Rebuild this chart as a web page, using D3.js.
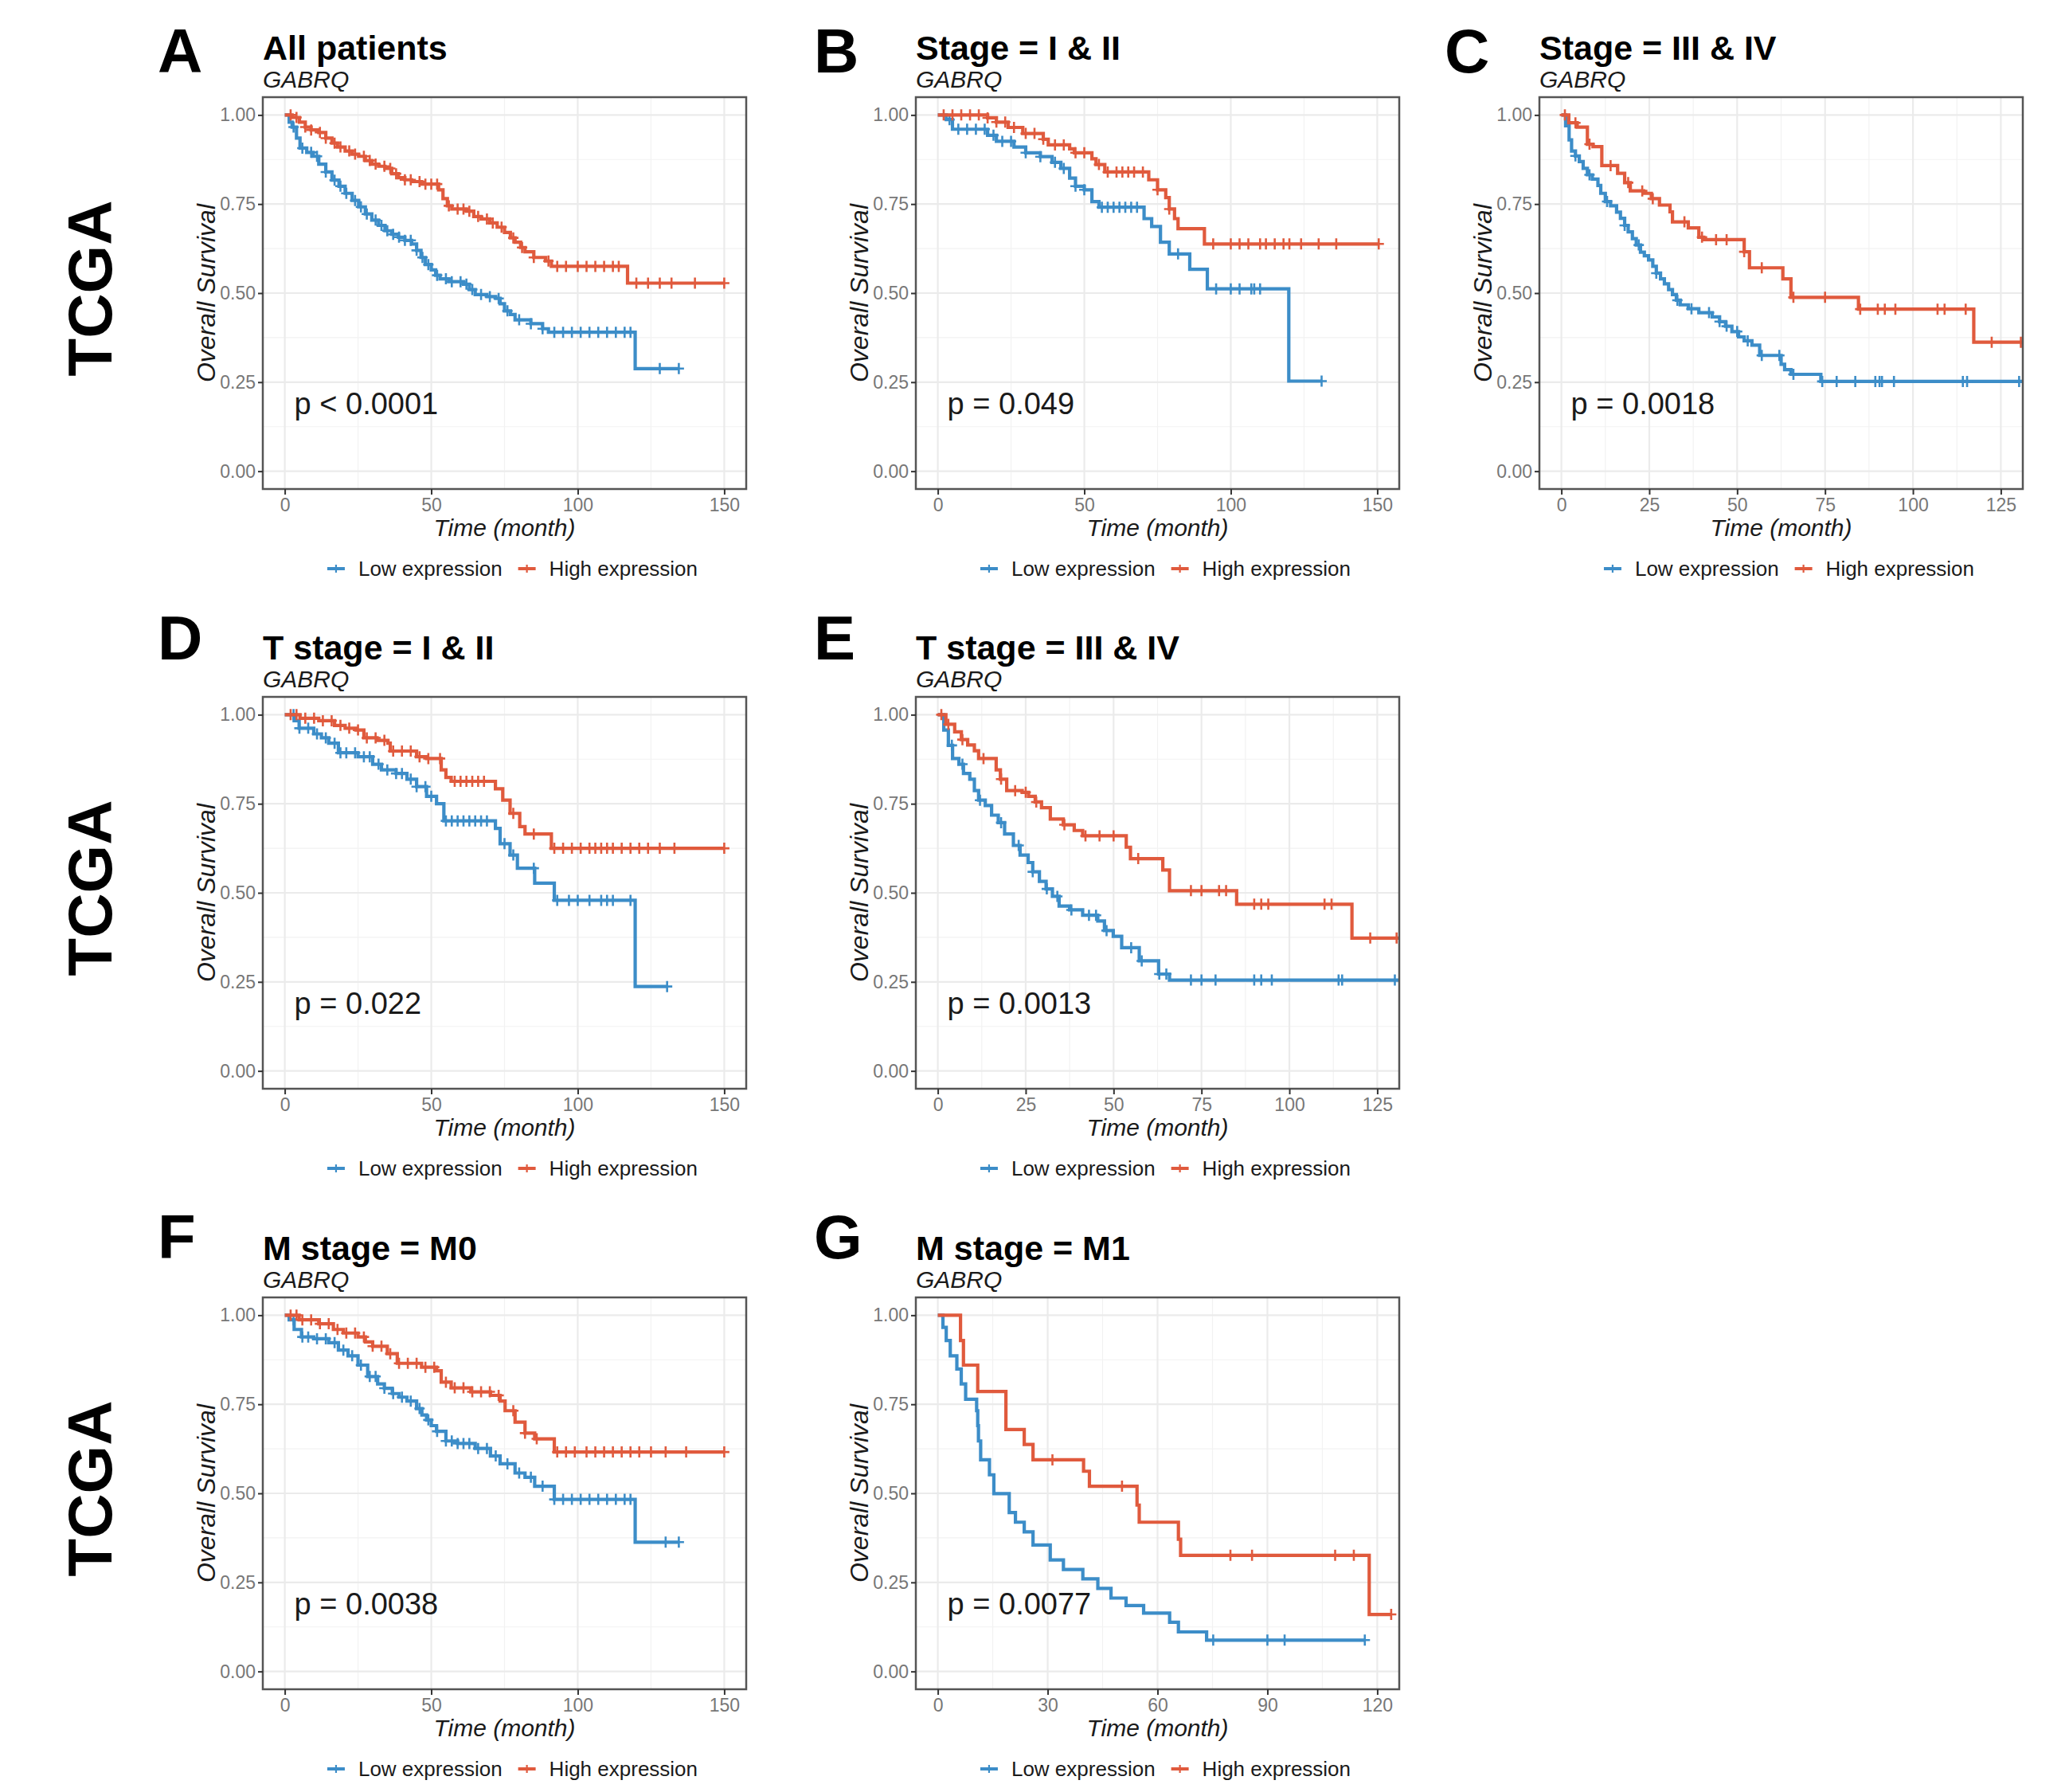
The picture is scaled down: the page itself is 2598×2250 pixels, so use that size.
<!DOCTYPE html>
<html>
<head>
<meta charset="utf-8">
<title>GABRQ overall survival, TCGA</title>
<script src="https://cdnjs.cloudflare.com/ajax/libs/d3/7.8.5/d3.min.js"></script>
<style>
  body { margin: 0; background: #fff; }
  text { font-family: "Liberation Sans", Arial, sans-serif; }
</style>
</head>
<body>
<div id="container"></div>
<script>
// ---- values ----
var panelIds = ["A", "B", "C", "D", "E", "F", "G"];
var titles = ["All patients", "Stage = I & II", "Stage = III & IV", "T stage = I & II",
              "T stage = III & IV", "M stage = M0", "M stage = M1"];
var pvalues = ["p < 0.0001", "p = 0.049", "p = 0.0018", "p = 0.022", "p = 0.0013", "p = 0.0038", "p = 0.0077"];
var gene = "GABRQ";
var groups = ["Low expression", "High expression"];
var yTicks = [0, 0.25, 0.5, 0.75, 1];
var ticks150 = [0, 50, 100, 150];
var ticks125 = [0, 25, 50, 75, 100, 125];
var ticks120 = [0, 30, 60, 90, 120];
var xMax = [150, 150, 125, 150, 125, 150, 120];

// step curves: [time at which survival drops, survival after the drop]
var A_low = [[1.5,0.98],[2.5,0.966],[4,0.935],[5.2,0.907],[7.5,0.895],[9.7,0.884],[11.6,0.862],[14,0.84],[16.1,0.817],[18.5,0.8],[20.6,0.78],[23,0.76],[25.2,0.742],[27.5,0.722],[29.7,0.705],[32,0.69],[34.2,0.675],[36.5,0.665],[38.8,0.657],[41,0.648],[43.3,0.638],[45,0.62],[46.5,0.6],[48,0.58],[50,0.565],[51.5,0.55],[53,0.54],[56,0.532],[61,0.525],[63,0.51],[65,0.496],[69,0.49],[72,0.485],[73.5,0.47],[75,0.45],[77,0.44],[78.6,0.425],[84,0.414],[88,0.4],[90,0.39],[119.6,0.288]];
var A_high = [[2.5,0.993],[5,0.98],[7,0.966],[9,0.958],[11.6,0.951],[14,0.935],[16.1,0.921],[18,0.91],[20.6,0.899],[23,0.89],[25.2,0.884],[27.5,0.872],[29.7,0.862],[32,0.856],[34.2,0.85],[36.5,0.835],[38.8,0.824],[41,0.818],[43.3,0.813],[46.7,0.806],[52.5,0.79],[54,0.765],[55.5,0.745],[57,0.736],[62,0.73],[64.5,0.715],[67,0.708],[70,0.697],[72.5,0.685],[75,0.67],[77,0.655],[78.6,0.643],[80.5,0.628],[82,0.616],[85,0.6],[89,0.59],[91,0.575],[117,0.528]];
var B_low = [[2.9,0.987],[5,0.96],[17,0.943],[20,0.926],[26,0.91],[30,0.894],[35,0.883],[39,0.867],[42,0.85],[45,0.823],[47,0.8],[50,0.79],[52.6,0.757],[55,0.741],[70.4,0.709],[73,0.687],[76,0.643],[79,0.61],[86,0.567],[92,0.512],[119.8,0.253]];
var B_high = [[17,0.992],[20,0.98],[24,0.965],[29,0.948],[36,0.932],[37.7,0.916],[45,0.905],[46.6,0.894],[52.6,0.877],[54,0.861],[57,0.84],[72,0.818],[75,0.79],[77.8,0.768],[79,0.736],[80.8,0.709],[82,0.681],[91,0.638]];
var C_low = [[1.2,0.97],[2.2,0.93],[2.9,0.899],[4,0.885],[5.1,0.869],[6.2,0.85],[7.4,0.832],[8.8,0.82],[10.4,0.802],[11.2,0.78],[12.5,0.757],[14,0.745],[15.7,0.727],[16.8,0.71],[18,0.69],[19,0.672],[20.2,0.653],[21.3,0.635],[22.5,0.615],[23.6,0.605],[24.8,0.593],[26,0.575],[27,0.556],[28.2,0.54],[29.3,0.526],[30.5,0.51],[31.6,0.496],[32.7,0.48],[33.8,0.467],[36.1,0.456],[39.1,0.445],[42.9,0.433],[45,0.42],[46.7,0.407],[48.5,0.392],[50.4,0.377],[52,0.366],[54.2,0.354],[56.4,0.325],[62.5,0.3],[63.5,0.285],[65.3,0.272],[73.8,0.252]];
var C_high = [[2.1,0.978],[4.5,0.966],[7.4,0.918],[9,0.911],[11.5,0.858],[16,0.836],[18,0.81],[19.6,0.787],[23.4,0.78],[25.6,0.765],[27.9,0.747],[30.9,0.728],[31.6,0.7],[36.1,0.683],[39.1,0.657],[40.5,0.65],[52,0.616],[53.5,0.571],[63,0.54],[65.3,0.488],[84.5,0.455],[117.3,0.362]];
var D_low = [[3.2,0.983],[4.9,0.962],[9.9,0.946],[12.5,0.935],[15,0.92],[18.3,0.893],[25,0.882],[30,0.861],[33,0.845],[38,0.835],[41.7,0.819],[45,0.798],[48.4,0.771],[51.8,0.75],[54.3,0.702],[71.9,0.681],[73.5,0.638],[76.9,0.606],[79.4,0.569],[85.3,0.527],[92,0.479],[119.6,0.237]];
var D_high = [[5.2,0.99],[11.6,0.983],[17,0.97],[20.6,0.962],[24.3,0.957],[27,0.935],[31.5,0.928],[35.2,0.92],[36,0.898],[45,0.882],[48.4,0.877],[53.4,0.845],[55,0.824],[56.8,0.813],[71.9,0.792],[74.4,0.76],[76.9,0.723],[80.2,0.686],[82,0.665],[91,0.625]];
var E_low = [[1.7,0.957],[3,0.914],[4.2,0.877],[6,0.861],[7.3,0.835],[9.1,0.819],[10.4,0.787],[11.6,0.76],[13.5,0.745],[15.3,0.718],[17.2,0.697],[19,0.665],[21.5,0.633],[23.4,0.606],[25.7,0.585],[27,0.559],[28.9,0.532],[30.8,0.511],[32.6,0.49],[34.5,0.463],[37.5,0.452],[41.2,0.437],[45.5,0.421],[47.4,0.394],[49.9,0.378],[52.3,0.346],[57.3,0.309],[62.8,0.272],[65.9,0.255]];
var E_high = [[2.3,0.973],[4.8,0.952],[6.7,0.93],[8.5,0.915],[10.4,0.899],[11.6,0.877],[16.6,0.845],[17.8,0.819],[19.6,0.787],[24,0.782],[25.8,0.771],[27.7,0.755],[29.5,0.739],[32,0.707],[35.7,0.691],[38.8,0.675],[41.2,0.66],[53.6,0.628],[54.8,0.596],[64,0.564],[65.9,0.506],[85,0.468],[117.8,0.373]];
var F_low = [[1.5,0.987],[3.2,0.96],[5.7,0.939],[9.9,0.934],[15,0.923],[18.3,0.902],[21.6,0.886],[25,0.86],[28.3,0.828],[31.7,0.807],[34,0.795],[36.7,0.78],[39,0.77],[41.7,0.759],[45,0.738],[46.8,0.72],[48.4,0.706],[50,0.69],[51.8,0.674],[55,0.647],[59,0.64],[65,0.626],[70.2,0.605],[73.5,0.583],[78.6,0.557],[82,0.545],[85.3,0.52],[92,0.483],[119.6,0.363]];
var F_high = [[4.9,0.987],[11.6,0.976],[16.6,0.96],[20,0.95],[25,0.939],[27.5,0.925],[30,0.913],[35,0.892],[38.4,0.865],[46.7,0.854],[51.8,0.844],[53.4,0.812],[56.8,0.796],[63.5,0.785],[70.2,0.775],[73.5,0.759],[75.2,0.732],[78.6,0.7],[82,0.669],[85.3,0.653],[92,0.616]];
var G_low = [[1.4,0.966],[2.3,0.929],[3.4,0.886],[5.2,0.849],[6.4,0.807],[7.6,0.764],[10.6,0.732],[10.9,0.69],[11.1,0.647],[11.7,0.594],[14.1,0.552],[15.3,0.499],[19.5,0.446],[21.2,0.419],[23.6,0.392],[26,0.355],[30.7,0.313],[34.3,0.286],[39.6,0.26],[43.7,0.233],[47.3,0.206],[51.4,0.185],[56.2,0.164],[63.3,0.138],[65.7,0.111],[73.4,0.088]];
var G_high = [[6.2,0.929],[7,0.86],[10.9,0.786],[18.6,0.679],[23.6,0.637],[26,0.594],[39.8,0.562],[41.4,0.52],[54.4,0.467],[55,0.419],[65.7,0.371],[66.3,0.326],[117.8,0.16]];

// last follow-up time of each curve (low, high), per panel
var lowEnd  = [134.5, 131, 135, 130.5, 135, 134.5, 116.6];
var highEnd = [150, 150.5, 135, 150, 135, 150, 123.8];

// censored times (+ marks)
var A_lowCens = [3,6,9,11,14,17,19,21,24,26,28,31,33,35,37,39,41,43,45,47,49,52,55,57,60,62,64,67,70,73,76,80,84,88,92,95,98,101,104,107,110,113,116,118,128,134.5];
var A_highCens = [2,4,7,9,12,14,17,19,22,24,27,29,31,34,36,38,41,43,46,48,50,52,56,59,61,63,66,69,71,74,78,81,85,90,93,96,100,103,106,109,112,114,120,124,128,132,140,150];
var B_lowCens = [4,7,10,13,16,19,22,25,30,35,40,43,47,50,56,58,60,62,64,66,68,82,95,100,103,107,108,110,131];
var B_highCens = [2,5,8,11,14,17,20,23,26,30,33,36,40,43,47,50,55,58,61,63,65,67,70,75,79,94,100,103,106,110,112,115,118,120,124,130,136,150.5];
var C_lowCens = [4,8,13,18,22,27,33,37,42,45,47,50,53,57,62,66,74.2,78.3,83.6,89.3,90.5,91.2,94.6,114.2,115.4,130.2];
var C_highCens = [1,4,8,14,19,23,26,35,40,44,47,52,57,66,75,85,90,92,95,107,109,115,122.4,130.7];
var D_lowCens = [3,5,8,11,14,17,19,21,24,27,29,32,35,38,40,43,45,48,50,55,57,59,61,63,65,67,69,75,78,85,93,97,100,104,108,110,112,118,130.5];
var D_highCens = [2,4,7,10,13,16,19,22,25,28,31,34,37,40,43,46,49,53,58,60,62,64,66,68,78,85,92,95,98,101,104,106,108,110,112,115,118,121,124,128,133,150];
var E_lowCens = [4,7,12,18,23,27,31,34,38,43,45,48,55,58,63,65,72,75,79,90,92,95,114,115,130];
var E_highCens = [1,3,7,13,18,22,25,28,36,42,46,50,57,72,75,80,82,90,92,94,110,112,123,130.5];
var F_lowCens = [3,6,8,11,14,17,20,23,26,29,31,34,37,40,43,46,49,52,55,57,59,61,63,66,69,72,76,80,84,88,92,95,98,101,104,107,110,113,116,118,130,134.5];
var F_highCens = [2,4,6,9,12,15,18,21,24,27,30,33,36,39,42,45,48,51,55,58,61,64,67,70,73,78,82,86,93,96,99,103,106,109,112,115,118,121,125,130,137,150];
var G_lowCens = [75.2, 90, 94.7, 116.6];
var G_highCens = [31.3, 50.3, 79.9, 85.8, 108.5, 113.6, 123.8];

// ---- layout ----
var W = 2598, H = 2250;
var colLeft = [330, 1150, 1933];
var rowTop = [122, 875, 1629];
var pw = 607, ph = 492;
var letterX = [198, 1022, 1814];
var letterBase = [91, 828, 1580];
var lowColor = "#3C8DC8", highColor = "#E05A3D";

var panels = [
  {row: 0, col: 0, xTicks: ticks150, low: A_low, high: A_high, lowCens: A_lowCens, highCens: A_highCens},
  {row: 0, col: 1, xTicks: ticks150, low: B_low, high: B_high, lowCens: B_lowCens, highCens: B_highCens},
  {row: 0, col: 2, xTicks: ticks125, low: C_low, high: C_high, lowCens: C_lowCens, highCens: C_highCens},
  {row: 1, col: 0, xTicks: ticks150, low: D_low, high: D_high, lowCens: D_lowCens, highCens: D_highCens},
  {row: 1, col: 1, xTicks: ticks125, low: E_low, high: E_high, lowCens: E_lowCens, highCens: E_highCens},
  {row: 2, col: 0, xTicks: ticks150, low: F_low, high: F_high, lowCens: F_lowCens, highCens: F_highCens},
  {row: 2, col: 1, xTicks: ticks120, low: G_low, high: G_high, lowCens: G_lowCens, highCens: G_highCens}
];
panels.forEach(function(p, i) {
  p.id = panelIds[i]; p.title = titles[i]; p.pval = pvalues[i];
  p.xMax = xMax[i]; p.lowEnd = lowEnd[i]; p.highEnd = highEnd[i];
});

var svg = d3.select("#container").append("svg")
    .attr("width", W)
    .attr("height", H);

svg.append("rect").attr("width", W).attr("height", H).attr("fill", "#fff");

// survival value at time t for a step list
function survAt(steps, t) {
  var s = 1;
  steps.forEach(function(d) { if (d[0] <= t) s = d[1]; });
  return s;
}

function midpoints(arr) {
  return d3.pairs(arr).map(function(d) { return (d[0] + d[1]) / 2; });
}

function drawPanel(p) {
  var left = colLeft[p.col], top = rowTop[p.row];
  var x = d3.scaleLinear().domain([-0.05 * p.xMax, 1.05 * p.xMax]).range([0, pw]);
  var y = d3.scaleLinear().domain([-0.05, 1.05]).range([ph, 0]);

  var g = svg.append("g").attr("transform", "translate(" + left + "," + top + ")");

  g.append("clipPath").attr("id", "clip" + p.id)
    .append("rect").attr("width", pw).attr("height", ph);

  // grid
  var grid = g.append("g");
  grid.selectAll("line.xminor").data(midpoints(p.xTicks)).enter().append("line")
    .attr("x1", x).attr("x2", x).attr("y1", 0).attr("y2", ph)
    .attr("stroke", "#F2F2F2").attr("stroke-width", 1.2);
  grid.selectAll("line.yminor").data(midpoints(yTicks)).enter().append("line")
    .attr("y1", y).attr("y2", y).attr("x1", 0).attr("x2", pw)
    .attr("stroke", "#F2F2F2").attr("stroke-width", 1.2);
  grid.selectAll("line.xmajor").data(p.xTicks).enter().append("line")
    .attr("x1", x).attr("x2", x).attr("y1", 0).attr("y2", ph)
    .attr("stroke", "#EBEBEB").attr("stroke-width", 2.2);
  grid.selectAll("line.ymajor").data(yTicks).enter().append("line")
    .attr("y1", y).attr("y2", y).attr("x1", 0).attr("x2", pw)
    .attr("stroke", "#EBEBEB").attr("stroke-width", 2.2);

  // curves
  var line = d3.line()
    .x(function(d) { return x(d[0]); })
    .y(function(d) { return y(d[1]); })
    .curve(d3.curveStepAfter);

  var curves = [
    {steps: p.low, end: p.lowEnd, cens: p.lowCens, color: lowColor},
    {steps: p.high, end: p.highEnd, cens: p.highCens, color: highColor}
  ];
  var plot = g.append("g").attr("clip-path", "url(#clip" + p.id + ")");
  curves.forEach(function(c) {
    var pts = [[0, 1]].concat(c.steps).concat([[c.end, c.steps[c.steps.length - 1][1]]]);
    plot.append("path")
      .attr("d", line(pts))
      .attr("fill", "none")
      .attr("stroke", c.color)
      .attr("stroke-width", 4.2);
    plot.selectAll(null).data(c.cens).enter().append("path")
      .attr("transform", function(d) {
        return "translate(" + x(d) + "," + y(survAt(c.steps, d)) + ")";
      })
      .attr("d", "M-6.5,0H6.5M0,-7V7")
      .attr("stroke", c.color)
      .attr("stroke-width", 2.6);
  });

  // panel border
  g.append("rect").attr("width", pw).attr("height", ph)
    .attr("fill", "none").attr("stroke", "#555").attr("stroke-width", 2.5);

  // axes
  var yAxis = g.append("g")
    .call(d3.axisLeft(y).tickValues(yTicks).tickFormat(d3.format(".2f")).tickSize(6).tickPadding(3));
  var xAxis = g.append("g").attr("transform", "translate(0," + ph + ")")
    .call(d3.axisBottom(x).tickValues(p.xTicks).tickFormat(d3.format("d")).tickSize(7).tickPadding(5));
  [yAxis, xAxis].forEach(function(a) {
    a.select(".domain").remove();
    a.selectAll(".tick line").attr("stroke", "#333").attr("stroke-width", 2);
    a.selectAll(".tick text").attr("fill", "#777").style("font-size", "23px")
      .style("font-family", "'Liberation Sans', Arial, sans-serif");
  });

  // axis titles
  g.append("text")
    .attr("transform", "translate(-60," + (ph / 2) + ") rotate(-90)")
    .attr("text-anchor", "middle")
    .style("font-size", "32px").style("font-style", "italic").attr("fill", "#1a1a1a")
    .text("Overall Survival");
  g.append("text")
    .attr("x", pw / 2).attr("y", ph + 59)
    .attr("text-anchor", "middle")
    .style("font-size", "30px").style("font-style", "italic").attr("fill", "#1a1a1a")
    .text("Time (month)");

  // titles
  g.append("text").attr("x", 0).attr("y", -47)
    .style("font-size", "43px").style("font-weight", "bold").attr("fill", "#000")
    .text(p.title);
  g.append("text").attr("x", 0).attr("y", -12)
    .style("font-size", "30px").style("font-style", "italic").attr("fill", "#1a1a1a")
    .text(gene);

  // p-value
  g.append("text").attr("x", x(0) + 12).attr("y", y(0.16))
    .style("font-size", "38px").attr("fill", "#1a1a1a")
    .text(p.pval);

  // legend
  var leg = g.append("g").attr("transform", "translate(" + (pw / 2 + 10) + "," + (ph + 109) + ")");
  var items = leg.append("g");
  var offset = 0;
  [lowColor, highColor].forEach(function(col, k) {
    var it = items.append("g").attr("transform", "translate(" + offset + ",0)");
    it.append("line").attr("x1", 0).attr("x2", 22).attr("y1", -9).attr("y2", -9)
      .attr("stroke", col).attr("stroke-width", 4);
    it.append("line").attr("x1", 11).attr("x2", 11).attr("y1", -14).attr("y2", -4)
      .attr("stroke", col).attr("stroke-width", 2.2);
    var t = it.append("text").attr("x", 39).attr("y", 0)
      .style("font-size", "26px").attr("fill", "#1a1a1a")
      .text(groups[k]);
    offset += 39 + t.node().getComputedTextLength() + 20;
  });
  items.attr("transform", "translate(" + (-(offset - 20) / 2) + ",0)");

  // panel letter
  svg.append("text")
    .attr("x", letterX[p.col]).attr("y", letterBase[p.row])
    .style("font-size", "78px").style("font-weight", "bold").attr("fill", "#000")
    .text(p.id);
}

panels.forEach(drawPanel);

// row labels
rowTop.forEach(function(t) {
  svg.append("text")
    .attr("transform", "translate(140," + (t + ph / 2 - 6) + ") rotate(-90)")
    .attr("text-anchor", "middle")
    .style("font-size", "78px").style("font-weight", "bold").attr("fill", "#000")
    .text("TCGA");
});
</script>
</body>
</html>
